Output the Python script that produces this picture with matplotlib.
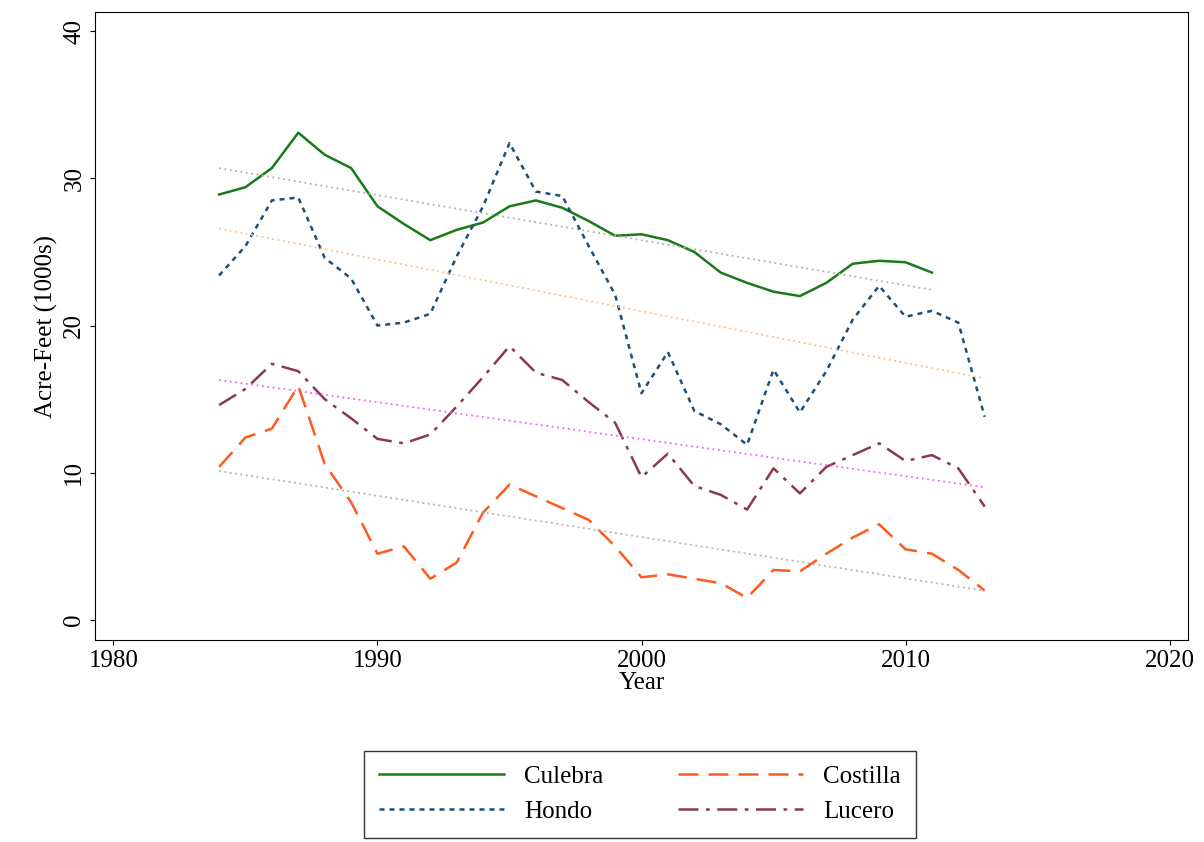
import matplotlib.pyplot as plt
import numpy as np

plt.rcParams['font.family'] = ['Liberation Serif', 'DejaVu Serif']

years = np.arange(1984, 2014)
culebra = [28.9, 29.4, 30.7, 33.1, 31.6, 30.7, 28.1, 26.9, 25.8, 26.5, 27.0, 28.1, 28.5, 28.0,
           27.1, 26.1, 26.2, 25.8, 25.0, 23.6, 22.9, 22.3, 22.0, 22.9, 24.2, 24.4, 24.3, 23.6]
hondo = [23.4, 25.4, 28.5, 28.7, 24.6, 23.2, 20.0, 20.2, 20.8, 24.7, 28.1, 32.4, 29.1, 28.8,
         25.4, 22.1, 15.4, 18.2, 14.2, 13.3, 11.9, 17.0, 14.1, 16.9, 20.4, 22.7, 20.6, 21.0, 20.2, 13.8]
lucero = [14.6, 15.7, 17.4, 16.9, 15.0, 13.7, 12.3, 12.0, 12.6, 14.5, 16.5, 18.6, 16.8, 16.3,
          14.8, 13.4, 9.7, 11.3, 9.1, 8.5, 7.5, 10.3, 8.6, 10.4, 11.2, 12.0, 10.8, 11.2, 10.3, 7.7]
costilla = [10.4, 12.4, 13.0, 15.9, 10.6, 8.0, 4.5, 5.0, 2.8, 3.9, 7.3, 9.2, 8.4, 7.6,
            6.8, 5.0, 2.9, 3.1, 2.8, 2.5, 1.5, 3.4, 3.3, 4.5, 5.6, 6.5, 4.8, 4.5, 3.4, 2.0]

fig = plt.figure(figsize=(12.04, 8.42), dpi=100)
ax = fig.add_axes([95 / 1204, 1 - 640 / 842, 1093 / 1204, 628 / 842])

series = [
    ('Culebra', culebra, '#1a7a1a', '-', '#b0b0b0'),
    ('Hondo', hondo, '#1f4e79', (0, (2, 2)), '#f5c08a'),
    ('Lucero', lucero, '#8b3a4a', (0, (8, 3, 1.5, 3)), '#ee66ee'),
    ('Costilla', costilla, '#ff5a1f', (0, (8, 4)), '#b0b0b0'),
]
handles = {}
for name, vals, col, ls, tcol in series:
    x = years[:len(vals)]
    h, = ax.plot(x, vals, color=col, ls=ls, lw=1.8, label=name)
    handles[name] = h
    b, a = np.polyfit(x, vals, 1)
    ax.plot(x, a + b * x, color=tcol, ls=(0, (1, 2)), lw=1.3)

ax.set_xlim(1979.3, 2020.7)
ax.set_ylim(-1.36, 41.3)
ax.set_xticks([1980, 1990, 2000, 2010, 2020])
ax.set_yticks([0, 10, 20, 30, 40])
ax.tick_params(labelsize=18)
for lab in ax.get_yticklabels():
    lab.set_rotation(90)
    lab.set_va('center')
ax.set_xlabel('Year', fontsize=18, labelpad=0)
ax.set_ylabel('Acre-Feet (1000s)', fontsize=18)

order = ['Culebra', 'Hondo', 'Costilla', 'Lucero']
fig.legend([handles[n] for n in order], order, ncol=2, loc='upper center',
           bbox_to_anchor=(640 / 1204, 1 - 738 / 842), fontsize=18, frameon=True,
           fancybox=False, edgecolor='black', handlelength=5, columnspacing=3,
           borderpad=0.6)

fig.savefig('out.png', dpi=100)
